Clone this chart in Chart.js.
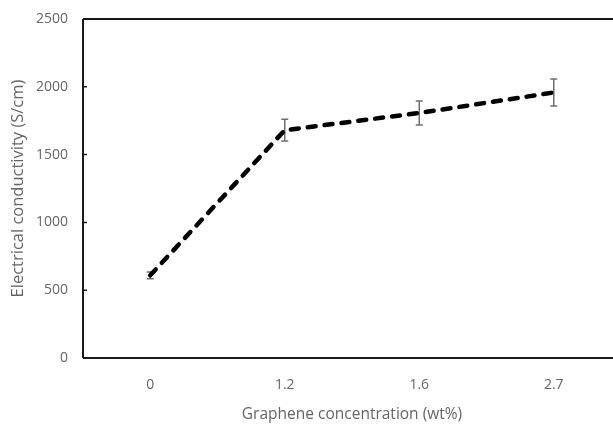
<!DOCTYPE html>
<html>
<head>
<meta charset="utf-8">
<script src="https://cdn.jsdelivr.net/npm/chart.js@4"></script>
<style>
html,body{margin:0;padding:0;background:#fff;overflow:hidden;}
#wrap{width:640px;height:425px;}
</style>
</head>
<body>
<div id="wrap"><canvas id="c" width="640" height="425"></canvas></div>
<script>
const categories = ['0', '1.2', '1.6', '2.7'];
const conductivity = [610, 1680, 1807, 1958];
const errors = [25, 80, 88, 100];
const yTicks = [0, 500, 1000, 1500, 2000, 2500];

const textGray = '#666666';
const fontFamily = '"Open Sans", "Noto Sans", sans-serif';

const errorBarPlugin = {
  id: 'errorBars',
  beforeDatasetsDraw(chart) {
    const ctx = chart.ctx;
    const xs = chart.scales.x, ys = chart.scales.y;
    ctx.save();
    ctx.strokeStyle = '#6f6f6f';
    ctx.lineWidth = 1.5;
    conductivity.forEach((v, i) => {
      const x = xs.getPixelForValue(i);
      const yt = ys.getPixelForValue(v + errors[i]);
      const yb = ys.getPixelForValue(v - errors[i]);
      ctx.beginPath();
      ctx.moveTo(x, yt); ctx.lineTo(x, yb);
      ctx.moveTo(x - 3.5, yt); ctx.lineTo(x + 3.5, yt);
      ctx.moveTo(x - 3.5, yb); ctx.lineTo(x + 3.5, yb);
      ctx.stroke();
    });
    ctx.restore();
  },
  afterDraw(chart) {
    const ctx = chart.ctx;
    const a = chart.chartArea;
    const ys = chart.scales.y;
    ctx.save();
    ctx.strokeStyle = '#1a1a1a';
    ctx.lineWidth = 2;
    ctx.beginPath();
    ctx.moveTo(a.left, a.top); ctx.lineTo(a.right, a.top);
    ctx.moveTo(a.left, a.top); ctx.lineTo(a.left, a.bottom);
    ctx.moveTo(a.left, a.bottom); ctx.lineTo(a.right, a.bottom);
    ctx.stroke();
    ctx.lineWidth = 1.5;
    ctx.beginPath();
    yTicks.forEach(t => {
      const y = ys.getPixelForValue(t);
      ctx.moveTo(a.left, y); ctx.lineTo(a.left + 4, y);
    });
    ctx.stroke();
    ctx.restore();
  }
};

new Chart(document.getElementById('c'), {
  type: 'line',
  data: {
    labels: categories,
    datasets: [{
      data: conductivity,
      borderColor: '#000',
      borderWidth: 4.5,
      borderDash: [8, 9],
      borderCapStyle: 'round',
      pointRadius: 0,
      fill: false,
      tension: 0
    }]
  },
  options: {
    responsive: false,
    animation: false,
    layout: { padding: { top: 19, right: 19, left: 0, bottom: 0 } },
    plugins: { legend: { display: false }, tooltip: { enabled: false } },
    scales: {
      x: {
        type: 'category',
        offset: true,
        grid: { display: false, drawTicks: false },
        border: { display: false },
        ticks: { color: textGray, font: { family: fontFamily, size: 14 }, padding: 19 },
        title: { display: true, text: 'Graphene concentration (wt%)', color: textGray,
                 font: { family: fontFamily, size: 15.5 }, padding: { top: 0, bottom: 1 } },
        afterFit(s) { s.height = 67; s.paddingLeft = 0; s.paddingRight = 0; }
      },
      y: {
        min: 0, max: 2500,
        afterBuildTicks(s) { s.ticks = yTicks.map(v => ({ value: v })); },
        grid: { display: false, drawTicks: false },
        border: { display: false },
        ticks: { color: textGray, font: { family: fontFamily, size: 14 }, padding: 15,
                 callback: (v) => String(v) },
        title: { display: true, text: 'Electrical conductivity (S/cm)', color: textGray,
                 font: { family: fontFamily, size: 16.5 }, padding: { top: 8, bottom: 0 } },
        afterFit(s) { s.width = 83; s.paddingTop = 0; s.paddingBottom = 0; }
      }
    }
  },
  plugins: [errorBarPlugin]
});
</script>
</body>
</html>
